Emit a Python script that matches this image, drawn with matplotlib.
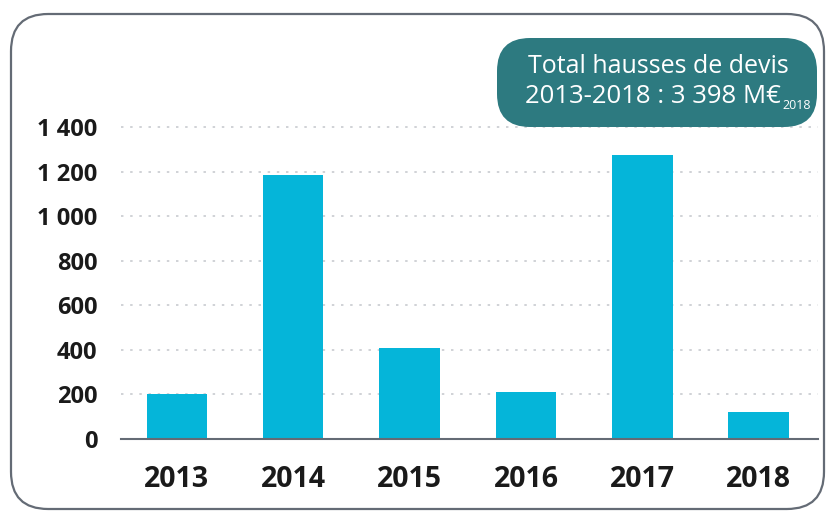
import matplotlib.pyplot as plt
from matplotlib.patches import FancyBboxPatch
from matplotlib.ticker import FuncFormatter

# Hausses de devis par année (M€ 2018)
years = ["2013", "2014", "2015", "2016", "2017", "2018"]
values = [200, 1185, 408, 212, 1273, 121]
y_ticks = [0, 200, 400, 600, 800, 1000, 1200, 1400]
box_line1 = "Total hausses de devis"
box_line2 = "2013-2018 : 3 398 M€"
box_sub = "2018"

W, H = 826, 513
plt.rcParams['font.family'] = ['Open Sans', 'DejaVu Sans']

fig = plt.figure(figsize=(W / 100, H / 100), dpi=100)


def fx(px):
    return px / W


def fy(py):
    return 1 - py / H


# outer rounded frame
frame = FancyBboxPatch((fx(11), fy(509)), fx(824) - fx(11), fy(14) - fy(509),
                       boxstyle="round,pad=0,rounding_size=0.045",
                       transform=fig.transFigure, facecolor="none",
                       edgecolor="#646b75", linewidth=1.6, mutation_aspect=W / H,
                       zorder=-1)
fig.patches.append(frame)

ax = fig.add_axes([fx(121), fy(439), fx(818) - fx(121), fy(127) - fy(439)])
ax.set_facecolor("none")
x = list(range(len(years)))
ax.bar(x, values, width=0.52, color="#05b5d9", zorder=3)

ax.set_xlim(-0.48, 5.51)
ax.set_ylim(0, 1400)
ax.set_yticks(y_ticks)
ax.yaxis.set_major_formatter(FuncFormatter(lambda v, p: f"{int(v):,}".replace(",", " ")))
ax.set_xticks(x)
ax.set_xticklabels(years)

for v in y_ticks[1:]:
    ax.axhline(v, color="#c3c6cb", linewidth=1.1, linestyle=(0, (1.6, 4.4)), zorder=1, clip_on=False)

for s in ["top", "right", "left"]:
    ax.spines[s].set_visible(False)
ax.spines["bottom"].set_color("#646b75")
ax.spines["bottom"].set_linewidth(1.5)
ax.spines["bottom"].set_zorder(4)

ax.tick_params(axis="y", length=0, pad=17, labelsize=17)
ax.tick_params(axis="x", length=0, pad=19, labelsize=20.5)
for lab in ax.get_xticklabels() + ax.get_yticklabels():
    lab.set_fontweight("bold")
    lab.set_color("#1a1a1a")

# total box
box = FancyBboxPatch((fx(497), fy(127)), fx(817) - fx(497), fy(38) - fy(127),
                     boxstyle="round,pad=0,rounding_size=0.04",
                     transform=fig.transFigure, facecolor="#2d7a80",
                     edgecolor="none", mutation_aspect=W / H, zorder=5)
fig.patches.append(box)

fig.text(fx(658), fy(73), box_line1, color="white", fontsize=18,
         ha="center", va="baseline", zorder=6)
fig.text(fx(781), fy(103), box_line2, color="white", fontsize=18.5,
         ha="right", va="baseline", zorder=6)
fig.text(fx(782), fy(109), box_sub, color="white", fontsize=9,
         ha="left", va="baseline", zorder=6)

fig.savefig("out.png", dpi=100)
